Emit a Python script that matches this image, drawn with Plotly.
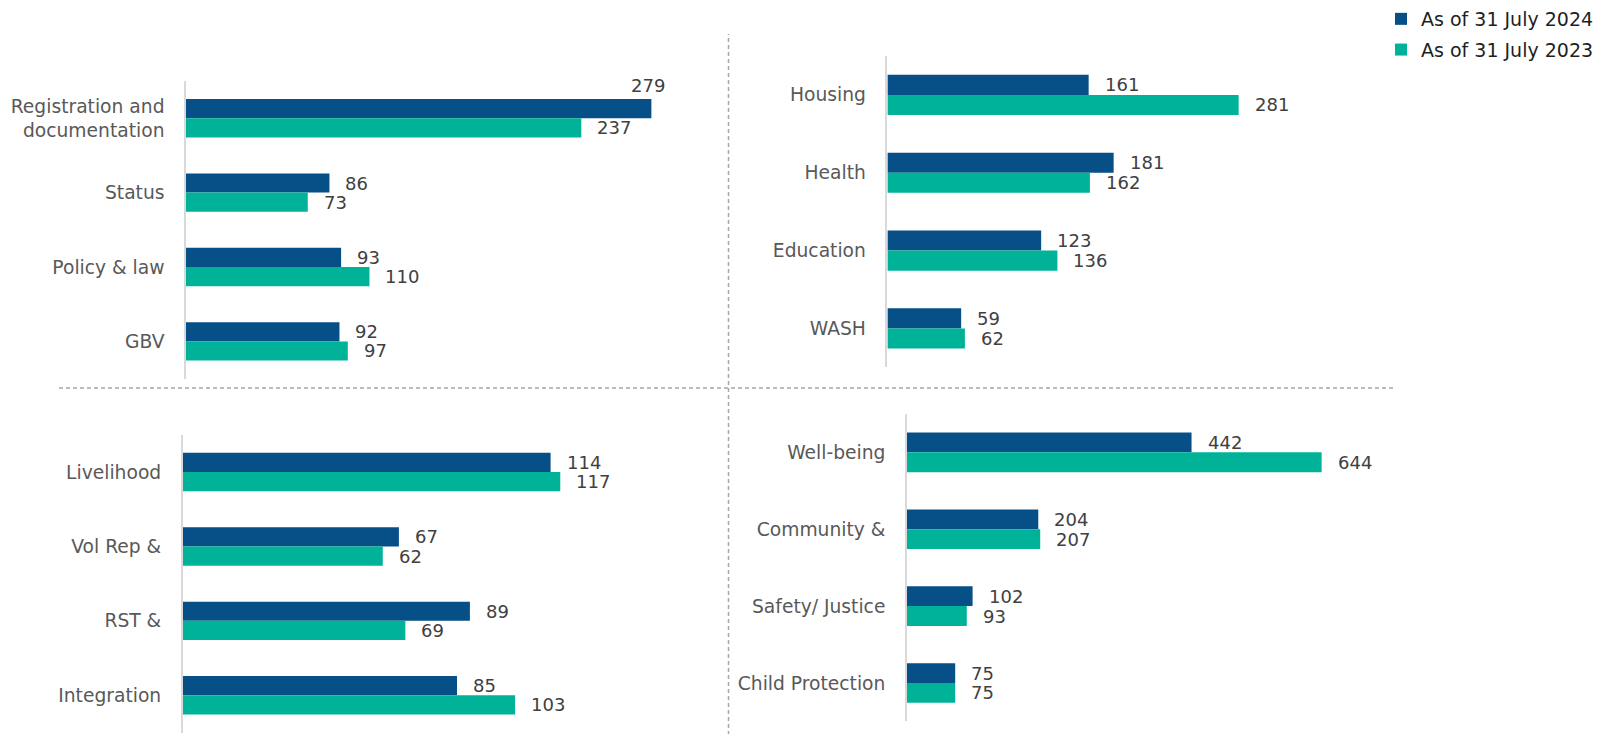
import plotly.graph_objects as go

# ---------------- data ----------------
series_names = ["As of 31 July 2024", "As of 31 July 2023"]

cats_tl = ["Registration and<br>documentation", "Status", "Policy & law", "GBV"]
v2024_tl = [279, 86, 93, 92]
v2023_tl = [237, 73, 110, 97]

cats_tr = ["Housing", "Health", "Education", "WASH"]
v2024_tr = [161, 181, 123, 59]
v2023_tr = [281, 162, 136, 62]

cats_bl = ["Livelihood", "Vol Rep &", "RST &", "Integration"]
v2024_bl = [114, 67, 89, 85]
v2023_bl = [117, 62, 69, 103]

cats_br = ["Well-being", "Community &", "Safety/ Justice", "Child Protection"]
v2024_br = [442, 204, 102, 75]
v2023_br = [644, 207, 93, 75]

# ---------------- style / layout ----------------
W, H = 1601, 734
OFF = 8  # page body margin
C24 = "#064f87"
C23 = "#00b398"
FONT = "DejaVu Sans"
LBL = "#595959"
NUM = "#404040"


def px_x(page_x):
    return (page_x - OFF) / W


def px_y(page_y):
    return 1 - (page_y - OFF) / H


# pixel geometry (page coords) of each panel: axis x, px per unit, top, bottom, x-range max
panels = [
    dict(cats=cats_tl, a=v2024_tl, b=v2023_tl, x0=186.0, ppu=1.668, top=81.0, bot=378.6, xmax=300, above=[0]),
    dict(cats=cats_tr, a=v2024_tr, b=v2023_tr, x0=887.4, ppu=1.25, top=56.0, bot=367.3, xmax=350, above=[]),
    dict(cats=cats_bl, a=v2024_bl, b=v2023_bl, x0=182.7, ppu=3.227, top=434.8, bot=732.5, xmax=150, above=[]),
    dict(cats=cats_br, a=v2024_br, b=v2023_br, x0=906.9, ppu=0.644, top=413.9, bot=721.4, xmax=700, above=[]),
]
BW = 0.258  # bar thickness in category units

fig = go.Figure()
annotations = []
layout_axes = {}

for k, p in enumerate(panels, start=1):
    xa = "x" if k == 1 else f"x{k}"
    ya = "y" if k == 1 else f"y{k}"
    xk = "xaxis" if k == 1 else f"xaxis{k}"
    yk = "yaxis" if k == 1 else f"yaxis{k}"
    n = len(p["cats"])
    spacing = (p["bot"] - p["top"]) / n
    half_bar_px = BW * spacing / 2

    fig.add_trace(go.Bar(
        y=p["cats"], x=p["a"], orientation="h", name=series_names[0],
        marker=dict(color=C24, line=dict(width=0)), offset=-BW, width=BW,
        xaxis=xa, yaxis=ya, showlegend=(k == 1), legendgroup="a", hoverinfo="x+y"))
    fig.add_trace(go.Bar(
        y=p["cats"], x=p["b"], orientation="h", name=series_names[1],
        marker=dict(color=C23, line=dict(width=0)), offset=0, width=BW,
        xaxis=xa, yaxis=ya, showlegend=(k == 1), legendgroup="b", hoverinfo="x+y"))

    x1 = p["x0"] + p["xmax"] * p["ppu"]
    layout_axes[xk] = dict(domain=[px_x(p["x0"]), px_x(x1)], range=[0, p["xmax"]],
                           visible=False, fixedrange=True, anchor=ya)
    layout_axes[yk] = dict(domain=[px_y(p["bot"]), px_y(p["top"])],
                           type="category", categoryorder="array", categoryarray=p["cats"],
                           range=[n - 0.5, -0.5], autorange=False, anchor=xa,
                           showline=True, linecolor="#d9d9d9", linewidth=1.5,
                           showgrid=False, zeroline=False, ticks="",
                           ticklabelstandoff=16,
                           tickfont=dict(family=FONT, size=18.7, color=LBL),
                           fixedrange=True)

    for i, c in enumerate(p["cats"]):
        if i in p["above"]:
            annotations.append(dict(x=p["a"][i], y=c, xref=xa, yref=ya, text=str(p["a"][i]),
                                    showarrow=False, xanchor="center", yanchor="middle",
                                    xshift=-3, yshift=half_bar_px + 23.5,
                                    font=dict(family=FONT, size=18, color=NUM)))
        else:
            annotations.append(dict(x=p["a"][i], y=c, xref=xa, yref=ya, text=str(p["a"][i]),
                                    showarrow=False, xanchor="left", yanchor="middle",
                                    xshift=14, yshift=half_bar_px,
                                    font=dict(family=FONT, size=18, color=NUM)))
        annotations.append(dict(x=p["b"][i], y=c, xref=xa, yref=ya, text=str(p["b"][i]),
                                showarrow=False, xanchor="left", yanchor="middle",
                                xshift=14, yshift=-half_bar_px,
                                font=dict(family=FONT, size=18, color=NUM)))

shapes = [
    dict(type="line", xref="paper", yref="paper", x0=px_x(728.5), x1=px_x(728.5), y0=0, y1=px_y(34),
         line=dict(color="#a6a6a6", width=1.5, dash="4px,3px")),
    dict(type="line", xref="paper", yref="paper", x0=px_x(59), x1=px_x(1394), y0=px_y(388), y1=px_y(388),
         line=dict(color="#a6a6a6", width=1.5, dash="4px,3px")),
]

fig.update_layout(
    width=W, height=H,
    margin=dict(l=0, r=0, t=0, b=0, autoexpand=False),
    paper_bgcolor="white", plot_bgcolor="rgba(0,0,0,0)",
    barmode="overlay",
    font=dict(family=FONT, size=18, color=LBL),
    showlegend=True,
    legend=dict(x=px_x(1381), y=px_y(0), xanchor="left", yanchor="top",
                font=dict(family=FONT, size=19, color="#1f1f1f"),
                bgcolor="rgba(0,0,0,0)", borderwidth=0, tracegroupgap=3),
    annotations=annotations,
    shapes=shapes,
    **layout_axes,
)

fig.write_html("out.html")
